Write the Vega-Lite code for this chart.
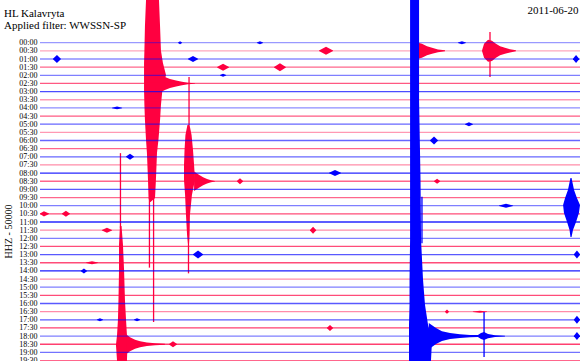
{
"$schema": "https://vega.github.io/schema/vega-lite/v6.json",
"width": 540, "height": 361,
"autosize": {"type": "none"},
"padding": {"left": 40, "top": 0, "right": 0, "bottom": 0},
"background": "white",
"config": {"view": {"stroke": null}, "axisY": {"labelOverlap": false, "labelFlush": false}},
"title": {"text": "HL Kalavryta", "subtitle": "Applied filter: WWSSN-SP", "anchor": "start", "frame": "group", "orient": "top", "offset": 0, "dx": -36, "dy": 31, "font": "Liberation Serif", "fontSize": 11, "fontWeight": "normal", "color": "black", "subtitleFont": "Liberation Serif", "subtitleFontSize": 11, "subtitleColor": "black", "subtitlePadding": 1},
"datasets": {
"base": [
{"r":0,"ch":"blue","noise":0.4},{"r":1,"ch":"red","noise":0.35},{"r":2,"ch":"blue","noise":0.45},{"r":3,"ch":"red","noise":0.6},{"r":4,"ch":"blue","noise":0.5},{"r":5,"ch":"red","noise":0.65},{"r":6,"ch":"blue","noise":0.7},{"r":7,"ch":"red","noise":0.4},{"r":8,"ch":"blue","noise":0.45},{"r":9,"ch":"red","noise":0.65},
{"r":10,"ch":"blue","noise":0.6},{"r":11,"ch":"red","noise":0.4},{"r":12,"ch":"blue","noise":0.6},{"r":13,"ch":"red","noise":0.6},{"r":14,"ch":"blue","noise":0.6},{"r":15,"ch":"red","noise":0.45},{"r":16,"ch":"blue","noise":0.85},{"r":17,"ch":"red","noise":0.6},{"r":18,"ch":"blue","noise":0.65},{"r":19,"ch":"red","noise":0.6},
{"r":20,"ch":"blue","noise":0.5},{"r":21,"ch":"red","noise":0.7},{"r":22,"ch":"blue","noise":0.85},{"r":23,"ch":"red","noise":0.45},{"r":24,"ch":"blue","noise":0.5},{"r":25,"ch":"red","noise":0.7},{"r":26,"ch":"blue","noise":0.65},{"r":27,"ch":"red","noise":0.7},{"r":28,"ch":"blue","noise":0.9},{"r":29,"ch":"red","noise":0.45},
{"r":30,"ch":"blue","noise":0.5},{"r":31,"ch":"red","noise":0.7},{"r":32,"ch":"blue","noise":0.65},{"r":33,"ch":"red","noise":0.45},{"r":34,"ch":"blue","noise":0.65},{"r":35,"ch":"red","noise":0.75},{"r":36,"ch":"blue","noise":0.5},{"r":37,"ch":"red","noise":0.75},{"r":38,"ch":"blue","noise":0.55},{"r":39,"ch":"red","noise":0.6}
],
"col": [
{"id":"A","ch":"red","r":-5.24,"t0":5.89,"t1":6.61},{"id":"A","ch":"red","r":-2.0,"t0":5.83,"t1":6.67},{"id":"A","ch":"red","r":1.0,"t0":5.8,"t1":6.72},{"id":"A","ch":"red","r":2.5,"t0":5.78,"t1":6.83},{"id":"A","ch":"red","r":3.96,"t0":5.78,"t1":7.0},{"id":"A","ch":"red","r":5.8,"t0":5.78,"t1":6.8},{"id":"A","ch":"red","r":7.64,"t0":5.8,"t1":6.72},{"id":"A","ch":"red","r":9.48,"t0":5.83,"t1":6.67},{"id":"A","ch":"red","r":11.94,"t0":5.89,"t1":6.58},{"id":"A","ch":"red","r":13.5,"t0":5.94,"t1":6.5},{"id":"A","ch":"red","r":16.85,"t0":6.0,"t1":6.44},{"id":"A","ch":"red","r":19.06,"t0":6.03,"t1":6.39},{"id":"A","ch":"red","r":19.55,"t0":6.08,"t1":6.14},
{"id":"B","ch":"red","r":10.1,"t0":8.19,"t1":8.31},{"id":"B","ch":"red","r":11.33,"t0":8.08,"t1":8.42},{"id":"B","ch":"red","r":13.17,"t0":8.03,"t1":8.5},{"id":"B","ch":"red","r":15.01,"t0":8.0,"t1":8.56},{"id":"B","ch":"red","r":16.85,"t0":8.0,"t1":8.61},{"id":"B","ch":"red","r":18.69,"t0":8.06,"t1":8.44},{"id":"B","ch":"red","r":21.14,"t0":8.11,"t1":8.33},{"id":"B","ch":"red","r":23.6,"t0":8.17,"t1":8.31},{"id":"B","ch":"red","r":24.82,"t0":8.22,"t1":8.28},
{"id":"C","ch":"red","r":22.49,"t0":4.44,"t1":4.53},{"id":"C","ch":"red","r":24.82,"t0":4.39,"t1":4.61},{"id":"C","ch":"red","r":27.88,"t0":4.39,"t1":4.67},{"id":"C","ch":"red","r":31.57,"t0":4.36,"t1":4.72},{"id":"C","ch":"red","r":34.02,"t0":4.33,"t1":4.78},{"id":"C","ch":"red","r":35.87,"t0":4.28,"t1":4.83},{"id":"C","ch":"red","r":37.09,"t0":4.22,"t1":4.86},{"id":"C","ch":"red","r":39.06,"t0":4.28,"t1":4.83},
{"id":"D","ch":"blue","r":-5.24,"t0":20.56,"t1":21.06},{"id":"D","ch":"blue","r":7.03,"t0":20.56,"t1":21.06},{"id":"D","ch":"blue","r":16.85,"t0":20.56,"t1":21.14},{"id":"D","ch":"blue","r":24.21,"t0":20.56,"t1":21.17},{"id":"D","ch":"blue","r":29.12,"t0":20.53,"t1":21.28},{"id":"D","ch":"blue","r":32.18,"t0":20.53,"t1":21.39},{"id":"D","ch":"blue","r":34.64,"t0":20.5,"t1":21.56},{"id":"D","ch":"blue","r":36.48,"t0":20.5,"t1":21.78},{"id":"D","ch":"blue","r":39.06,"t0":20.5,"t1":21.72},
{"id":"E","ch":"blue","r":16.6,"t0":29.47,"t1":29.53},{"id":"E","ch":"blue","r":18.07,"t0":29.33,"t1":29.67},{"id":"E","ch":"blue","r":19.06,"t0":29.17,"t1":29.83},{"id":"E","ch":"blue","r":19.91,"t0":29.06,"t1":30.0},{"id":"E","ch":"blue","r":20.9,"t0":29.11,"t1":29.94},{"id":"E","ch":"blue","r":22.0,"t0":29.28,"t1":29.78},{"id":"E","ch":"blue","r":22.98,"t0":29.42,"t1":29.61},{"id":"E","ch":"blue","r":23.84,"t0":29.47,"t1":29.53}
],
"env": [
{"id":"A","ch":"red","t":6.44,"lo":3.53,"hi":6.47},{"id":"A","ch":"red","t":6.67,"lo":3.9,"hi":6.1},{"id":"A","ch":"red","t":6.94,"lo":4.2,"hi":5.8},{"id":"A","ch":"red","t":7.22,"lo":4.45,"hi":5.55},{"id":"A","ch":"red","t":7.56,"lo":4.63,"hi":5.37},{"id":"A","ch":"red","t":7.89,"lo":4.78,"hi":5.22},{"id":"A","ch":"red","t":8.22,"lo":4.9,"hi":5.1},{"id":"A","ch":"red","t":8.61,"lo":4.96,"hi":5.04},
{"id":"B","ch":"red","t":8.56,"lo":15.8,"hi":18.2},{"id":"B","ch":"red","t":8.83,"lo":16.2,"hi":17.8},{"id":"B","ch":"red","t":9.06,"lo":16.51,"hi":17.49},{"id":"B","ch":"red","t":9.28,"lo":16.73,"hi":17.27},{"id":"B","ch":"red","t":9.5,"lo":16.88,"hi":17.12},{"id":"B","ch":"red","t":9.72,"lo":16.96,"hi":17.04},
{"id":"C","ch":"red","t":4.78,"lo":35.77,"hi":38.23},{"id":"C","ch":"red","t":5.0,"lo":36.14,"hi":37.86},{"id":"C","ch":"red","t":5.28,"lo":36.45,"hi":37.55},{"id":"C","ch":"red","t":5.56,"lo":36.63,"hi":37.37},{"id":"C","ch":"red","t":5.94,"lo":36.78,"hi":37.22},{"id":"C","ch":"red","t":6.39,"lo":36.88,"hi":37.12},{"id":"C","ch":"red","t":6.94,"lo":36.95,"hi":37.05},
{"id":"D","ch":"blue","t":21.6,"lo":34.4,"hi":37.6},{"id":"D","ch":"blue","t":22.0,"lo":35.02,"hi":36.98},{"id":"D","ch":"blue","t":22.33,"lo":35.39,"hi":36.61},{"id":"D","ch":"blue","t":22.78,"lo":35.63,"hi":36.37},{"id":"D","ch":"blue","t":23.33,"lo":35.78,"hi":36.22},{"id":"D","ch":"blue","t":23.89,"lo":35.85,"hi":36.15},{"id":"D","ch":"blue","t":24.33,"lo":35.88,"hi":36.12},{"id":"D","ch":"blue","t":24.5,"lo":35.63,"hi":36.37},{"id":"D","ch":"blue","t":24.67,"lo":35.51,"hi":36.49},{"id":"D","ch":"blue","t":24.89,"lo":35.75,"hi":36.25},{"id":"D","ch":"blue","t":25.28,"lo":35.9,"hi":36.1},{"id":"D","ch":"blue","t":25.83,"lo":35.96,"hi":36.04},
{"id":"F","ch":"red","t":24.56,"lo":0.94,"hi":1.06},{"id":"F","ch":"red","t":24.67,"lo":0.14,"hi":1.86},{"id":"F","ch":"red","t":24.89,"lo":-0.35,"hi":2.35},{"id":"F","ch":"red","t":25.11,"lo":-0.23,"hi":2.23},{"id":"F","ch":"red","t":25.33,"lo":0.14,"hi":1.86},{"id":"F","ch":"red","t":25.56,"lo":0.45,"hi":1.55},{"id":"F","ch":"red","t":25.83,"lo":0.63,"hi":1.37},{"id":"F","ch":"red","t":26.11,"lo":0.8,"hi":1.2},{"id":"F","ch":"red","t":26.44,"lo":0.94,"hi":1.06},
{"id":"G","ch":"red","t":21.0,"lo":0.02,"hi":1.98},{"id":"G","ch":"red","t":21.22,"lo":0.14,"hi":1.86},{"id":"G","ch":"red","t":21.5,"lo":0.45,"hi":1.55},{"id":"G","ch":"red","t":21.78,"lo":0.63,"hi":1.37},{"id":"G","ch":"red","t":22.11,"lo":0.82,"hi":1.18},{"id":"G","ch":"red","t":22.5,"lo":0.94,"hi":1.06},
{"id":"b1","ch":"blue","t":0.72,"lo":1.97,"hi":2.03},{"id":"b1","ch":"blue","t":0.94,"lo":1.51,"hi":2.49},{"id":"b1","ch":"blue","t":1.16,"lo":1.97,"hi":2.03},
{"id":"b2","ch":"blue","t":8.22,"lo":1.97,"hi":2.03},{"id":"b2","ch":"blue","t":8.5,"lo":1.63,"hi":2.37},{"id":"b2","ch":"blue","t":8.78,"lo":1.97,"hi":2.03},
{"id":"b3","ch":"blue","t":29.61,"lo":1.97,"hi":2.03},{"id":"b3","ch":"blue","t":29.78,"lo":1.51,"hi":2.49},{"id":"b3","ch":"blue","t":29.95,"lo":1.97,"hi":2.03},
{"id":"b4","ch":"red","t":9.84,"lo":2.97,"hi":3.03},{"id":"b4","ch":"red","t":10.17,"lo":2.57,"hi":3.43},{"id":"b4","ch":"red","t":10.5,"lo":2.97,"hi":3.03},
{"id":"b5","ch":"red","t":15.5,"lo":0.97,"hi":1.03},{"id":"b5","ch":"red","t":15.89,"lo":0.51,"hi":1.49},{"id":"b5","ch":"red","t":16.28,"lo":0.97,"hi":1.03},
{"id":"b6","ch":"red","t":13.0,"lo":2.97,"hi":3.03},{"id":"b6","ch":"red","t":13.33,"lo":2.51,"hi":3.49},{"id":"b6","ch":"red","t":13.66,"lo":2.97,"hi":3.03},
{"id":"b7","ch":"blue","t":4.0,"lo":7.97,"hi":8.03},{"id":"b7","ch":"blue","t":4.28,"lo":7.82,"hi":8.18},{"id":"b7","ch":"blue","t":4.56,"lo":7.97,"hi":8.03},
{"id":"b8","ch":"blue","t":23.61,"lo":9.97,"hi":10.03},{"id":"b8","ch":"blue","t":23.83,"lo":9.75,"hi":10.25},{"id":"b8","ch":"blue","t":24.05,"lo":9.97,"hi":10.03},
{"id":"b9","ch":"blue","t":21.67,"lo":11.97,"hi":12.03},{"id":"b9","ch":"blue","t":21.89,"lo":11.51,"hi":12.49},{"id":"b9","ch":"blue","t":22.11,"lo":11.97,"hi":12.03},
{"id":"b10","ch":"blue","t":4.78,"lo":13.97,"hi":14.03},{"id":"b10","ch":"blue","t":5.0,"lo":13.63,"hi":14.37},{"id":"b10","ch":"blue","t":5.22,"lo":13.97,"hi":14.03},
{"id":"b11","ch":"red","t":10.94,"lo":16.97,"hi":17.03},{"id":"b11","ch":"red","t":11.11,"lo":16.63,"hi":17.37},{"id":"b11","ch":"red","t":11.28,"lo":16.97,"hi":17.03},
{"id":"b12","ch":"red","t":21.89,"lo":16.97,"hi":17.03},{"id":"b12","ch":"red","t":22.06,"lo":16.69,"hi":17.31},{"id":"b12","ch":"red","t":22.23,"lo":16.97,"hi":17.03},
{"id":"b13","ch":"blue","t":25.5,"lo":19.97,"hi":20.03},{"id":"b13","ch":"blue","t":25.89,"lo":19.75,"hi":20.25},{"id":"b13","ch":"blue","t":26.28,"lo":19.97,"hi":20.03},
{"id":"b14","ch":"red","t":0.0,"lo":20.97,"hi":21.03},{"id":"b14","ch":"red","t":0.22,"lo":20.69,"hi":21.31},{"id":"b14","ch":"red","t":0.5,"lo":20.97,"hi":21.03},
{"id":"b15","ch":"red","t":1.22,"lo":20.97,"hi":21.03},{"id":"b15","ch":"red","t":1.44,"lo":20.63,"hi":21.37},{"id":"b15","ch":"red","t":1.66,"lo":20.97,"hi":21.03},
{"id":"b16","ch":"red","t":3.44,"lo":22.97,"hi":23.03},{"id":"b16","ch":"red","t":3.72,"lo":22.69,"hi":23.31},{"id":"b16","ch":"red","t":4.0,"lo":22.97,"hi":23.03},
{"id":"b17","ch":"red","t":15.0,"lo":22.97,"hi":23.03},{"id":"b17","ch":"red","t":15.17,"lo":22.57,"hi":23.43},{"id":"b17","ch":"red","t":15.34,"lo":22.97,"hi":23.03},
{"id":"b18","ch":"blue","t":8.5,"lo":25.97,"hi":26.03},{"id":"b18","ch":"blue","t":8.78,"lo":25.51,"hi":26.49},{"id":"b18","ch":"blue","t":9.06,"lo":25.97,"hi":26.03},
{"id":"b19","ch":"blue","t":29.66,"lo":25.97,"hi":26.03},{"id":"b19","ch":"blue","t":29.83,"lo":25.51,"hi":26.49},{"id":"b19","ch":"blue","t":30.0,"lo":25.97,"hi":26.03},
{"id":"b20","ch":"blue","t":2.27,"lo":27.97,"hi":28.03},{"id":"b20","ch":"blue","t":2.44,"lo":27.69,"hi":28.31},{"id":"b20","ch":"blue","t":2.61,"lo":27.97,"hi":28.03},
{"id":"b21","ch":"red","t":2.56,"lo":26.97,"hi":27.03},{"id":"b21","ch":"red","t":2.89,"lo":26.82,"hi":27.18},{"id":"b21","ch":"red","t":3.22,"lo":26.97,"hi":27.03},
{"id":"b22","ch":"blue","t":3.16,"lo":33.97,"hi":34.03},{"id":"b22","ch":"blue","t":3.33,"lo":33.82,"hi":34.18},{"id":"b22","ch":"blue","t":3.5,"lo":33.97,"hi":34.03},
{"id":"b23","ch":"blue","t":5.22,"lo":33.97,"hi":34.03},{"id":"b23","ch":"blue","t":5.39,"lo":33.82,"hi":34.18},{"id":"b23","ch":"blue","t":5.56,"lo":33.97,"hi":34.03},
{"id":"b24","ch":"red","t":7.17,"lo":36.97,"hi":37.03},{"id":"b24","ch":"red","t":7.39,"lo":36.63,"hi":37.37},{"id":"b24","ch":"red","t":7.61,"lo":36.97,"hi":37.03},
{"id":"b25","ch":"red","t":15.94,"lo":34.97,"hi":35.03},{"id":"b25","ch":"red","t":16.11,"lo":34.63,"hi":35.37},{"id":"b25","ch":"red","t":16.28,"lo":34.97,"hi":35.03},
{"id":"b26","ch":"blue","t":16.06,"lo":15.97,"hi":16.03},{"id":"b26","ch":"blue","t":16.39,"lo":15.63,"hi":16.37},{"id":"b26","ch":"blue","t":16.72,"lo":15.97,"hi":16.03},
{"id":"b27","ch":"red","t":22.5,"lo":32.97,"hi":33.03},{"id":"b27","ch":"red","t":22.61,"lo":32.75,"hi":33.25},{"id":"b27","ch":"red","t":22.72,"lo":32.97,"hi":33.03},
{"id":"b28","ch":"blue","t":29.66,"lo":33.97,"hi":34.03},{"id":"b28","ch":"blue","t":29.83,"lo":33.51,"hi":34.49},{"id":"b28","ch":"blue","t":30.0,"lo":33.97,"hi":34.03},
{"id":"b29","ch":"blue","t":29.66,"lo":35.97,"hi":36.03},{"id":"b29","ch":"blue","t":29.83,"lo":35.51,"hi":36.49},{"id":"b29","ch":"blue","t":30.0,"lo":35.97,"hi":36.03},
{"id":"b30","ch":"blue","t":7.67,"lo":-0.03,"hi":0.03},{"id":"b30","ch":"blue","t":7.78,"lo":-0.18,"hi":0.18},{"id":"b30","ch":"blue","t":7.89,"lo":-0.03,"hi":0.03},
{"id":"b31","ch":"blue","t":12.05,"lo":-0.03,"hi":0.03},{"id":"b31","ch":"blue","t":12.22,"lo":-0.18,"hi":0.18},{"id":"b31","ch":"blue","t":12.39,"lo":-0.03,"hi":0.03},
{"id":"b32","ch":"blue","t":23.22,"lo":-0.03,"hi":0.03},{"id":"b32","ch":"blue","t":23.44,"lo":-0.18,"hi":0.18},{"id":"b32","ch":"blue","t":23.66,"lo":-0.03,"hi":0.03},
{"id":"b33","ch":"red","t":24.05,"lo":32.97,"hi":33.03},{"id":"b33","ch":"red","t":24.44,"lo":32.88,"hi":33.12},{"id":"b33","ch":"red","t":24.83,"lo":32.97,"hi":33.03},
{"id":"b34","ch":"blue","t":10.0,"lo":3.97,"hi":4.03},{"id":"b34","ch":"blue","t":10.17,"lo":3.82,"hi":4.18},{"id":"b34","ch":"blue","t":10.34,"lo":3.97,"hi":4.03}
],
"spk": [
{"id":"A1","ch":"red","t":6.08,"r0":19.0,"r1":27.6},{"id":"A2","ch":"red","t":6.31,"r0":19.0,"r1":34.27},{"id":"B1","ch":"red","t":8.25,"r0":24.8,"r1":28.3},{"id":"B0","ch":"red","t":8.28,"r0":4.2,"r1":10.1},{"id":"C0","ch":"red","t":4.47,"r0":13.55,"r1":22.73},{"id":"D2","ch":"blue","t":21.22,"r0":18.9,"r1":24.6},{"id":"D3","ch":"blue","t":24.67,"r0":33.04,"r1":38.56},{"id":"F1","ch":"red","t":25.0,"r0":-1.31,"r1":4.21}
]
},
"layer": [
{"data": {"name": "col"}, "transform": [{"filter": "datum.ch === 'red'"}],
 "mark": {"type": "area", "orient": "horizontal", "clip": true},
 "encoding": {
  "y": {"field": "r", "type": "quantitative", "scale": {"domain": [-5.24, 39.055], "reverse": true, "nice": false, "zero": false}, "axis": {"values": [0,1,2,3,4,5,6,7,8,9,10,11,12,13,14,15,16,17,18,19,20,21,22,23,24,25,26,27,28,29,30,31,32,33,34,35,36,37,38,39], "labelExpr": "(datum.value < 20 ? '0' : '') + floor(datum.value / 2) + ':' + (datum.value % 2 ? '30' : '00')", "domain": false, "ticks": false, "grid": false, "labelFont": "Liberation Serif", "labelFontSize": 8, "labelColor": "black", "labelPadding": 3, "labelOverlap": false, "labelBound": false, "labelFlush": false, "title": "HHZ - 50000", "titleFont": "Liberation Serif", "titleFontSize": 10, "titleFontWeight": "normal", "titleColor": "black", "titleX": -32, "titleY": 231, "titleAngle": 270, "titleAlign": "center", "titleBaseline": "middle"}},
  "x": {"field": "t0", "type": "quantitative", "scale": {"domain": [0, 30], "nice": false, "zero": false}, "axis": {"orient": "top", "labels": false, "ticks": false, "domain": false, "grid": false, "title": "2011-06-20", "titleFont": "Liberation Serif", "titleFontSize": 11, "titleFontWeight": "normal", "titleColor": "black", "titleX": 538, "titleY": 13, "titleAlign": "right", "titleBaseline": "alphabetic", "titleAngle": 0}},
  "x2": {"field": "t1"},
  "detail": {"field": "id"},
  "color": {"field": "ch", "type": "nominal", "scale": {"domain": ["blue", "red"], "range": ["#0000ff", "#ff0040"]}, "legend": null}
 }},
{"data": {"name": "env"}, "transform": [{"filter": "datum.ch === 'red'"}],
 "mark": {"type": "area", "orient": "vertical", "clip": true},
 "encoding": {
  "x": {"field": "t", "type": "quantitative", "axis": {"orient": "top", "labels": false, "ticks": false, "domain": false, "grid": false, "title": "2011-06-20", "titleFont": "Liberation Serif", "titleFontSize": 11, "titleFontWeight": "normal", "titleColor": "black", "titleX": 538, "titleY": 13, "titleAlign": "right", "titleBaseline": "alphabetic", "titleAngle": 0}},
  "y": {"field": "lo", "type": "quantitative", "axis": {"values": [0,1,2,3,4,5,6,7,8,9,10,11,12,13,14,15,16,17,18,19,20,21,22,23,24,25,26,27,28,29,30,31,32,33,34,35,36,37,38,39], "labelExpr": "(datum.value < 20 ? '0' : '') + floor(datum.value / 2) + ':' + (datum.value % 2 ? '30' : '00')", "domain": false, "ticks": false, "grid": false, "labelFont": "Liberation Serif", "labelFontSize": 8, "labelColor": "black", "labelPadding": 3, "labelOverlap": false, "labelBound": false, "labelFlush": false, "title": "HHZ - 50000", "titleFont": "Liberation Serif", "titleFontSize": 10, "titleFontWeight": "normal", "titleColor": "black", "titleX": -32, "titleY": 231, "titleAngle": 270, "titleAlign": "center", "titleBaseline": "middle"}},
  "y2": {"field": "hi"},
  "detail": {"field": "id"},
  "color": {"field": "ch", "type": "nominal", "legend": null}
 }},
{"data": {"name": "spk"}, "transform": [{"filter": "datum.ch === 'red'"}],
 "mark": {"type": "rule", "strokeWidth": 1.3, "clip": true},
 "encoding": {
  "x": {"field": "t", "type": "quantitative", "axis": {"orient": "top", "labels": false, "ticks": false, "domain": false, "grid": false, "title": "2011-06-20", "titleFont": "Liberation Serif", "titleFontSize": 11, "titleFontWeight": "normal", "titleColor": "black", "titleX": 538, "titleY": 13, "titleAlign": "right", "titleBaseline": "alphabetic", "titleAngle": 0}},
  "y": {"field": "r0", "type": "quantitative", "axis": {"values": [0,1,2,3,4,5,6,7,8,9,10,11,12,13,14,15,16,17,18,19,20,21,22,23,24,25,26,27,28,29,30,31,32,33,34,35,36,37,38,39], "labelExpr": "(datum.value < 20 ? '0' : '') + floor(datum.value / 2) + ':' + (datum.value % 2 ? '30' : '00')", "domain": false, "ticks": false, "grid": false, "labelFont": "Liberation Serif", "labelFontSize": 8, "labelColor": "black", "labelPadding": 3, "labelOverlap": false, "labelBound": false, "labelFlush": false, "title": "HHZ - 50000", "titleFont": "Liberation Serif", "titleFontSize": 10, "titleFontWeight": "normal", "titleColor": "black", "titleX": -32, "titleY": 231, "titleAngle": 270, "titleAlign": "center", "titleBaseline": "middle"}},
  "y2": {"field": "r1"},
  "color": {"field": "ch", "type": "nominal", "legend": null}
 }},
{"data": {"name": "base"},
 "mark": {"type": "rule", "strokeWidth": 1.3},
 "encoding": {
  "y": {"field": "r", "type": "quantitative", "axis": {"values": [0,1,2,3,4,5,6,7,8,9,10,11,12,13,14,15,16,17,18,19,20,21,22,23,24,25,26,27,28,29,30,31,32,33,34,35,36,37,38,39], "labelExpr": "(datum.value < 20 ? '0' : '') + floor(datum.value / 2) + ':' + (datum.value % 2 ? '30' : '00')", "domain": false, "ticks": false, "grid": false, "labelFont": "Liberation Serif", "labelFontSize": 8, "labelColor": "black", "labelPadding": 3, "labelOverlap": false, "labelBound": false, "labelFlush": false, "title": "HHZ - 50000", "titleFont": "Liberation Serif", "titleFontSize": 10, "titleFontWeight": "normal", "titleColor": "black", "titleX": -32, "titleY": 231, "titleAngle": 270, "titleAlign": "center", "titleBaseline": "middle"}},
  "color": {"field": "ch", "type": "nominal", "legend": null},
  "opacity": {"field": "noise", "type": "quantitative", "scale": null, "legend": null}
 }},
{"data": {"name": "col"}, "transform": [{"filter": "datum.ch === 'blue'"}],
 "mark": {"type": "area", "orient": "horizontal", "clip": true},
 "encoding": {
  "y": {"field": "r", "type": "quantitative", "axis": {"values": [0,1,2,3,4,5,6,7,8,9,10,11,12,13,14,15,16,17,18,19,20,21,22,23,24,25,26,27,28,29,30,31,32,33,34,35,36,37,38,39], "labelExpr": "(datum.value < 20 ? '0' : '') + floor(datum.value / 2) + ':' + (datum.value % 2 ? '30' : '00')", "domain": false, "ticks": false, "grid": false, "labelFont": "Liberation Serif", "labelFontSize": 8, "labelColor": "black", "labelPadding": 3, "labelOverlap": false, "labelBound": false, "labelFlush": false, "title": "HHZ - 50000", "titleFont": "Liberation Serif", "titleFontSize": 10, "titleFontWeight": "normal", "titleColor": "black", "titleX": -32, "titleY": 231, "titleAngle": 270, "titleAlign": "center", "titleBaseline": "middle"}},
  "x": {"field": "t0", "type": "quantitative", "axis": {"orient": "top", "labels": false, "ticks": false, "domain": false, "grid": false, "title": "2011-06-20", "titleFont": "Liberation Serif", "titleFontSize": 11, "titleFontWeight": "normal", "titleColor": "black", "titleX": 538, "titleY": 13, "titleAlign": "right", "titleBaseline": "alphabetic", "titleAngle": 0}},
  "x2": {"field": "t1"},
  "detail": {"field": "id"},
  "color": {"field": "ch", "type": "nominal", "legend": null}
 }},
{"data": {"name": "env"}, "transform": [{"filter": "datum.ch === 'blue'"}],
 "mark": {"type": "area", "orient": "vertical", "clip": true},
 "encoding": {
  "x": {"field": "t", "type": "quantitative", "axis": {"orient": "top", "labels": false, "ticks": false, "domain": false, "grid": false, "title": "2011-06-20", "titleFont": "Liberation Serif", "titleFontSize": 11, "titleFontWeight": "normal", "titleColor": "black", "titleX": 538, "titleY": 13, "titleAlign": "right", "titleBaseline": "alphabetic", "titleAngle": 0}},
  "y": {"field": "lo", "type": "quantitative", "axis": {"values": [0,1,2,3,4,5,6,7,8,9,10,11,12,13,14,15,16,17,18,19,20,21,22,23,24,25,26,27,28,29,30,31,32,33,34,35,36,37,38,39], "labelExpr": "(datum.value < 20 ? '0' : '') + floor(datum.value / 2) + ':' + (datum.value % 2 ? '30' : '00')", "domain": false, "ticks": false, "grid": false, "labelFont": "Liberation Serif", "labelFontSize": 8, "labelColor": "black", "labelPadding": 3, "labelOverlap": false, "labelBound": false, "labelFlush": false, "title": "HHZ - 50000", "titleFont": "Liberation Serif", "titleFontSize": 10, "titleFontWeight": "normal", "titleColor": "black", "titleX": -32, "titleY": 231, "titleAngle": 270, "titleAlign": "center", "titleBaseline": "middle"}},
  "y2": {"field": "hi"},
  "detail": {"field": "id"},
  "color": {"field": "ch", "type": "nominal", "legend": null}
 }},
{"data": {"name": "spk"}, "transform": [{"filter": "datum.ch === 'blue'"}],
 "mark": {"type": "rule", "strokeWidth": 1.3, "clip": true},
 "encoding": {
  "x": {"field": "t", "type": "quantitative", "axis": {"orient": "top", "labels": false, "ticks": false, "domain": false, "grid": false, "title": "2011-06-20", "titleFont": "Liberation Serif", "titleFontSize": 11, "titleFontWeight": "normal", "titleColor": "black", "titleX": 538, "titleY": 13, "titleAlign": "right", "titleBaseline": "alphabetic", "titleAngle": 0}},
  "y": {"field": "r0", "type": "quantitative", "axis": {"values": [0,1,2,3,4,5,6,7,8,9,10,11,12,13,14,15,16,17,18,19,20,21,22,23,24,25,26,27,28,29,30,31,32,33,34,35,36,37,38,39], "labelExpr": "(datum.value < 20 ? '0' : '') + floor(datum.value / 2) + ':' + (datum.value % 2 ? '30' : '00')", "domain": false, "ticks": false, "grid": false, "labelFont": "Liberation Serif", "labelFontSize": 8, "labelColor": "black", "labelPadding": 3, "labelOverlap": false, "labelBound": false, "labelFlush": false, "title": "HHZ - 50000", "titleFont": "Liberation Serif", "titleFontSize": 10, "titleFontWeight": "normal", "titleColor": "black", "titleX": -32, "titleY": 231, "titleAngle": 270, "titleAlign": "center", "titleBaseline": "middle"}},
  "y2": {"field": "r1"},
  "color": {"field": "ch", "type": "nominal", "legend": null}
 }}
]
}
